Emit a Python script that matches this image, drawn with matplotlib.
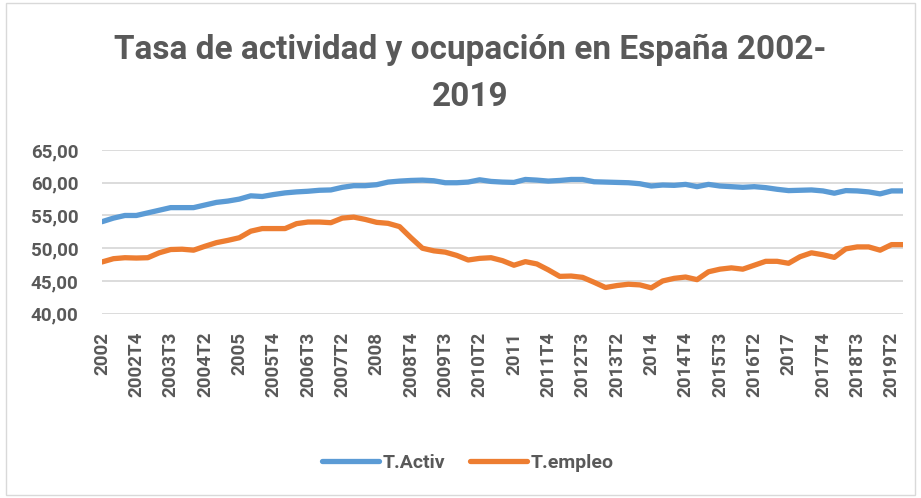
import matplotlib
matplotlib.use("Agg")
import matplotlib.pyplot as plt
from matplotlib.patches import Rectangle

years = list(range(2002, 2020))
quarters = []
for y in years:
    for q in range(1, 5):
        if y == 2019 and q > 3:
            break
        quarters.append(f"{y}" if q == 1 else f"{y}T{q}")

t_activ = [54.05, 54.6, 55.0, 55.0, 55.4, 55.8, 56.2, 56.2, 56.2, 56.6, 57.0, 57.2,
           57.5, 58.0, 57.9, 58.2, 58.45, 58.6, 58.7, 58.85, 58.9, 59.3, 59.55, 59.55,
           59.7, 60.1, 60.25, 60.35, 60.4, 60.3, 60.0, 60.0, 60.1, 60.45, 60.2, 60.1,
           60.05, 60.5, 60.4, 60.25, 60.35, 60.5, 60.5, 60.15, 60.1, 60.05, 60.0, 59.85,
           59.5, 59.65, 59.6, 59.75, 59.4, 59.75, 59.5, 59.4, 59.3, 59.4, 59.25, 59.0,
           58.8, 58.85, 58.9, 58.75, 58.4, 58.8, 58.75, 58.6, 58.3, 58.75, 58.75]

t_empleo = [47.9, 48.4, 48.55, 48.5, 48.55, 49.3, 49.8, 49.85, 49.7, 50.3, 50.85, 51.2,
            51.6, 52.6, 53.0, 53.0, 53.0, 53.75, 54.0, 54.0, 53.9, 54.6, 54.75, 54.4,
            53.95, 53.8, 53.3, 51.6, 50.0, 49.6, 49.4, 48.9, 48.2, 48.45, 48.55, 48.1,
            47.4, 47.95, 47.6, 46.7, 45.7, 45.75, 45.55, 44.8, 44.0, 44.3, 44.5, 44.4,
            43.95, 45.0, 45.4, 45.6, 45.2, 46.4, 46.8, 47.0, 46.8, 47.4, 48.0, 48.0,
            47.7, 48.7, 49.3, 49.0, 48.6, 49.9, 50.2, 50.2, 49.7, 50.55, 50.55]

yticks = [40, 45, 50, 55, 60, 65]
ytick_labels = ["40,00", "45,00", "50,00", "55,00", "60,00", "65,00"]

title = "Tasa de actividad y ocupación en España 2002-\n2019"
legend_labels = ["T.Activ", "T.empleo"]
colors = ["#5b9bd5", "#ed7d31"]
text_color = "#595959"
grid_color = "#d9d9d9"

plt.rcParams['font.family'] = ['Roboto', 'DejaVu Sans']

fig = plt.figure(figsize=(9.21, 4.98), dpi=100)
ax = fig.add_axes([102/921, 1-313.7/498, (903-102)/921, (313.7-150)/498])

x = list(range(len(quarters)))
l1, = ax.plot(x, t_activ, color=colors[0], lw=3.8, solid_joinstyle='round', solid_capstyle='round')
l2, = ax.plot(x, t_empleo, color=colors[1], lw=3.8, solid_joinstyle='round', solid_capstyle='round')

ax.set_xlim(0, len(quarters) - 1)
ax.set_ylim(40, 65)
ax.set_yticks(yticks)
ax.set_yticklabels(ytick_labels)
tick_idx = list(range(0, len(quarters), 3))
ax.set_xticks(tick_idx)
ax.set_xticklabels([quarters[i] for i in tick_idx], rotation=90, va='top')

ax.grid(axis='y', color=grid_color, lw=1.3)
ax.set_axisbelow(True)
for s in ax.spines.values():
    s.set_visible(False)
ax.tick_params(axis='both', length=0, colors=text_color, labelsize=13.5)
ax.tick_params(axis='y', pad=17)
ax.tick_params(axis='x', pad=13)
for lab in ax.get_xticklabels() + ax.get_yticklabels():
    lab.set_fontweight('bold')

fig.text(470/921, 1-34/498, title, ha='center', va='top', fontsize=24,
         fontweight='bold', color=text_color, linespacing=1.58)

leg = fig.legend([l1, l2], legend_labels, loc='center', bbox_to_anchor=(468/921, 1-463/498),
                 ncol=2, frameon=False, handlelength=2.9, handletextpad=0.2,
                 columnspacing=1.3, prop={'size': 14, 'weight': 'bold'})
for t in leg.get_texts():
    t.set_color(text_color)
for h in leg.get_lines():
    h.set_linewidth(3.8)

fig.patches.append(Rectangle((6/921, 3/498), 1-12/921, 1-6/498, transform=fig.transFigure,
                             fill=False, edgecolor=grid_color, lw=1))

fig.savefig("out.png", dpi=100)
